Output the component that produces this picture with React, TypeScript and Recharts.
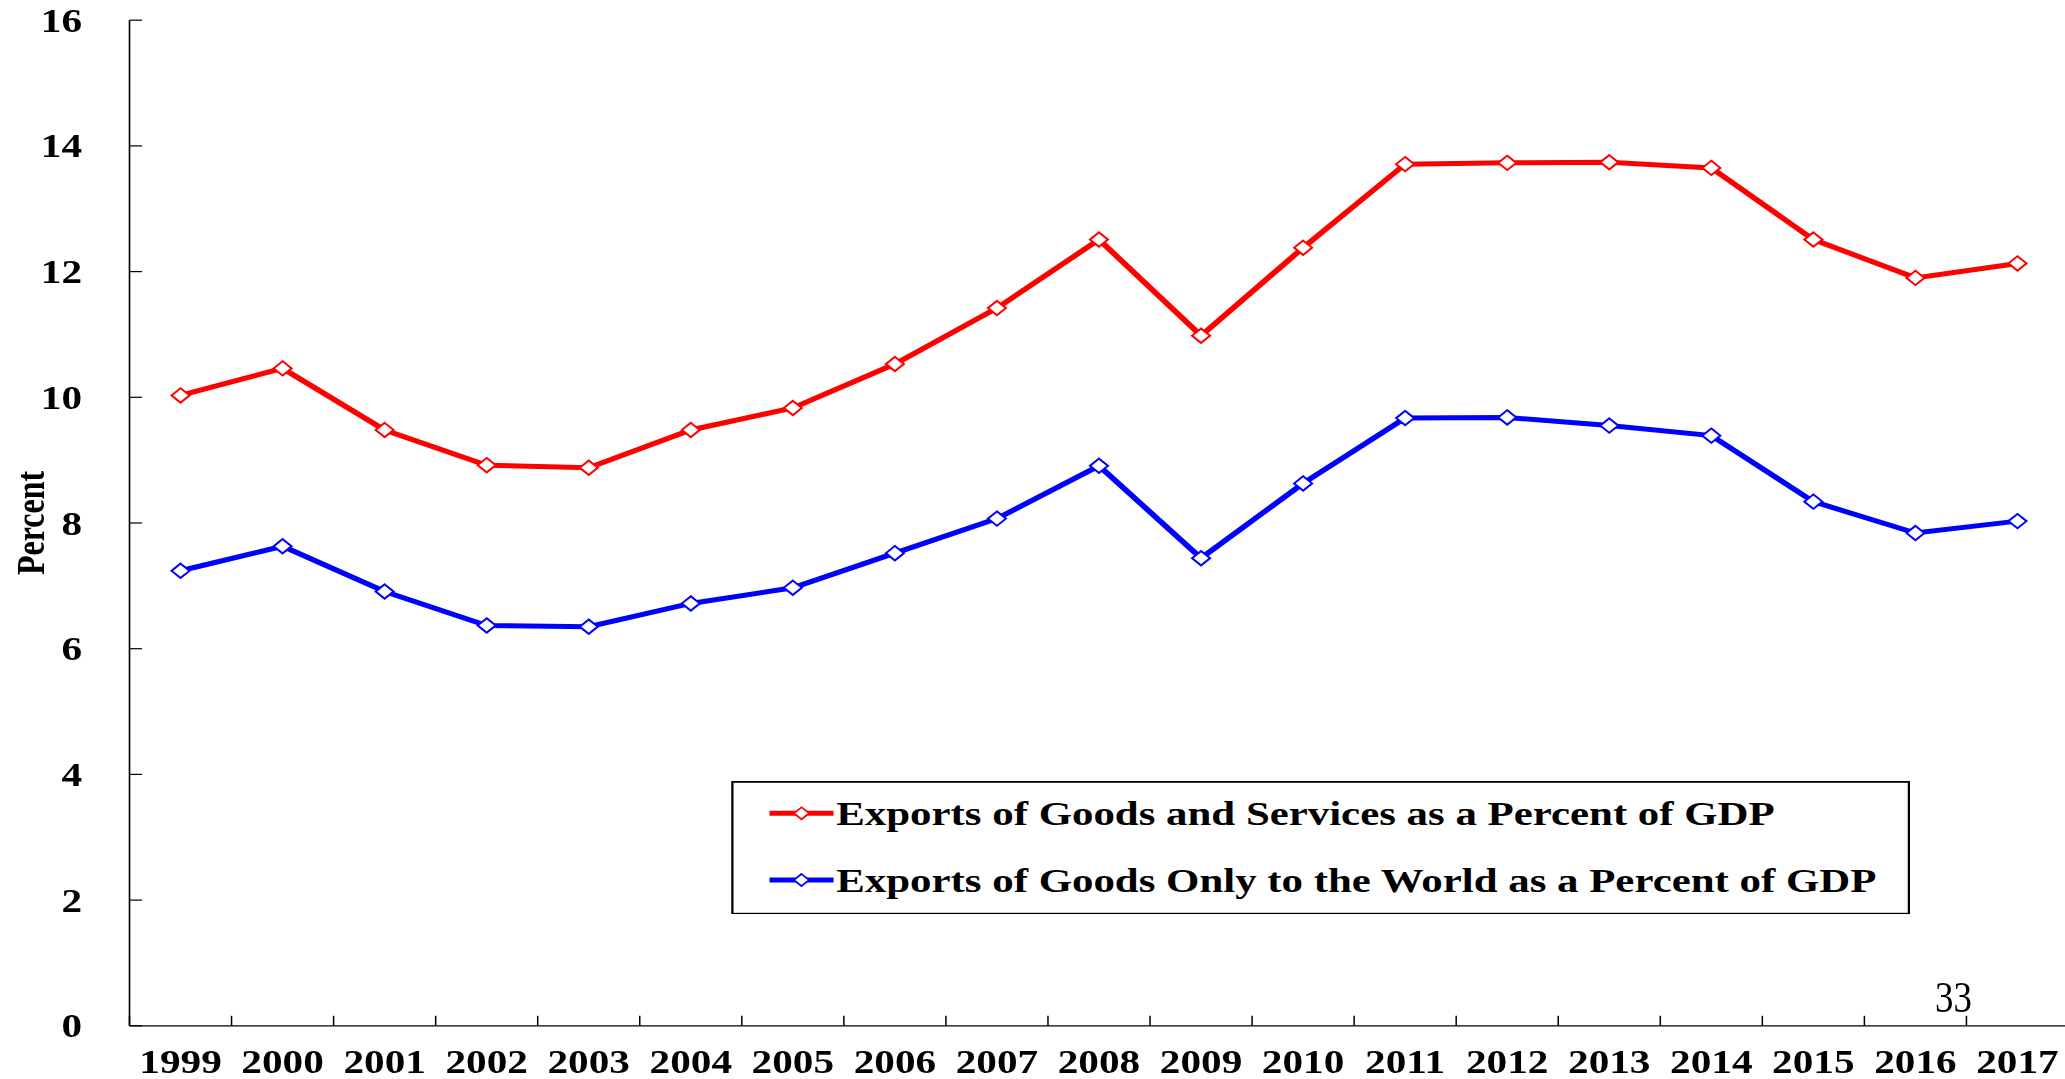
import React from 'react';
import { LineChart, Line, XAxis, YAxis, Legend } from 'recharts';

// ---- data ----
const years = ['1999', '2000', '2001', '2002', '2003', '2004', '2005', '2006', '2007', '2008', '2009', '2010', '2011', '2012', '2013', '2014', '2015', '2016', '2017'];
const goodsAndServices = [10.03, 10.46, 9.48, 8.92, 8.88, 9.48, 9.83, 10.53, 11.42, 12.51, 10.98, 12.38, 13.71, 13.73, 13.74, 13.65, 12.51, 11.9, 12.13];
const goodsOnly = [7.24, 7.63, 6.91, 6.37, 6.35, 6.72, 6.97, 7.52, 8.07, 8.91, 7.44, 8.63, 9.67, 9.68, 9.55, 9.39, 8.34, 7.84, 8.03];
const yTicks = [0, 2, 4, 6, 8, 10, 12, 14, 16];
const seriesNames = [
  'Exports of Goods and Services as a Percent of GDP',
  'Exports of Goods Only to the World as a Percent of GDP',
];
const yAxisTitle = 'Percent';
const pageNumber = '33';

const data = years.map((year, i) => ({ year, gs: goodsAndServices[i], go: goodsOnly[i] }));

// ---- layout (unscaled space; whole chart is stretched horizontally by 1.25) ----
const STRETCH = 1.25;
const CHART_W = 1660;
const CHART_H = 1079;
const Y_AXIS_W = 103.6;
const MARGIN = { top: 20.2, right: 5.2, bottom: 0, left: 0 };
const X_AXIS_H = 53.2;
const PLOT_W = CHART_W - MARGIN.left - MARGIN.right - Y_AXIS_W;
const BAND = PLOT_W / years.length;
const FONT = '"Liberation Serif", "Times New Roman", Times, serif';

const XTick = (props: any) => {
  const { x, y, payload, index } = props;
  const half = BAND / 2;
  return (
    <g>
      <line x1={x - half} x2={x - half} y1={y} y2={y - 10} stroke="#000" strokeWidth={1.2} />
      {index === years.length - 1 && (
        <line x1={x + half} x2={x + half} y1={y} y2={y - 10} stroke="#000" strokeWidth={1.2} />
      )}
      <text x={x} y={y + 47.5} textAnchor="middle" fontFamily={FONT} fontWeight="bold" fontSize={33} fill="#000">
        {payload.value}
      </text>
    </g>
  );
};

const YTick = (props: any) => {
  const { x, y, payload } = props;
  return (
    <g>
      <line x1={x} x2={x + 10} y1={y} y2={y} stroke="#000" strokeWidth={1.2} />
      <text x={x - 38} y={y} dy="0.35em" textAnchor="end" fontFamily={FONT} fontWeight="bold" fontSize={33} fill="#000">
        {payload.value}
      </text>
    </g>
  );
};

const Diamond = (props: any) => {
  const { cx, cy, stroke } = props;
  if (cx == null || cy == null) return null;
  const r = 7.2;
  return (
    <path
      d={`M${cx},${cy - r} L${cx + r},${cy} L${cx},${cy + r} L${cx - r},${cy} Z`}
      fill="#fff"
      stroke={stroke}
      strokeWidth={1.8}
    />
  );
};

const LEG_W = 943;
const LEG_H = 133.6;

const LegendContent = (props: any) => {
  const { payload } = props;
  const rows = [...(payload || [])].sort(
    (a: any, b: any) => seriesNames.indexOf(a.value) - seriesNames.indexOf(b.value)
  );
  return (
    <svg width={LEG_W} height={LEG_H} style={{ display: 'block' }}>
      <rect x={0.9} y={0.9} width={LEG_W - 1.8} height={LEG_H - 1.8} fill="#fff" stroke="#000" strokeWidth={1.8} />
      {rows.map((entry: any, i: number) => {
        const lineY = 32.3 + i * 66.7;
        const base = 44 + i * 66.7;
        const cx = 56.2;
        const r = 6;
        return (
          <g key={i}>
            <line x1={30.6} x2={81.8} y1={lineY} y2={lineY} stroke={entry.color} strokeWidth={5} />
            <path
              d={`M${cx},${lineY - r} L${cx + r},${lineY} L${cx},${lineY + r} L${cx - r},${lineY} Z`}
              fill="#fff"
              stroke={entry.color}
              strokeWidth={1.6}
            />
            <text x={84} y={base} fontFamily={FONT} fontWeight="bold" fontSize={34.3} fill="#000">
              {entry.value}
            </text>
          </g>
        );
      })}
    </svg>
  );
};

const YLabel = (props: any) => {
  const vb = props.viewBox || { x: 0, y: 0, width: 0, height: 0 };
  const cy = vb.y + vb.height / 2;
  const x = vb.x + 35.4;
  return (
    <text
      x={x}
      y={cy}
      transform={`rotate(-90, ${x}, ${cy})`}
      textAnchor="middle"
      fontFamily={FONT}
      fontWeight="bold"
      fontSize={32}
      fill="#000"
    >
      {yAxisTitle}
    </text>
  );
};

export default function App() {
  return (
    <div
      style={{
        position: 'absolute',
        left: 0,
        top: 0,
        width: 2065,
        height: 1079,
        overflow: 'hidden',
        background: '#fff',
      }}
    >
      <div style={{ transform: `scaleX(${STRETCH})`, transformOrigin: '0 0', width: CHART_W, height: CHART_H }}>
        <LineChart width={CHART_W} height={CHART_H} data={data} margin={MARGIN}>
          <XAxis
            dataKey="year"
            scale="band"
            interval={0}
            height={X_AXIS_H}
            tickSize={0}
            tickMargin={0}
            tickLine={false}
            axisLine={{ stroke: '#000', strokeWidth: 1.3 }}
            tick={XTick}
          />
          <YAxis
            domain={[0, 16]}
            ticks={yTicks}
            width={Y_AXIS_W}
            tickSize={0}
            tickMargin={0}
            tickLine={false}
            interval={0}
            axisLine={{ stroke: '#000', strokeWidth: 1.3 }}
            tick={YTick}
            label={<YLabel />}
          />
          <Legend
            layout="vertical"
            align="center"
            verticalAlign="middle"
            content={<LegendContent />}
            wrapperStyle={{ left: 584.8, top: 780.7, width: LEG_W, height: LEG_H }}
          />
          <Line
            type="linear"
            dataKey="gs"
            name={seriesNames[0]}
            stroke="#ff0000"
            strokeWidth={5}
            dot={<Diamond />}
            activeDot={false}
            isAnimationActive={false}
          />
          <Line
            type="linear"
            dataKey="go"
            name={seriesNames[1]}
            stroke="#0000ff"
            strokeWidth={5}
            dot={<Diamond />}
            activeDot={false}
            isAnimationActive={false}
          />
        </LineChart>
      </div>
      <svg
        width={2065}
        height={1079}
        style={{ position: 'absolute', left: 0, top: 0, pointerEvents: 'none' }}
      >
        <text
          transform="translate(1953.5,1012) scale(0.84,1)"
          textAnchor="middle"
          fontFamily={FONT}
          fontSize={44}
          fill="#000"
        >
          {pageNumber}
        </text>
      </svg>
    </div>
  );
}
